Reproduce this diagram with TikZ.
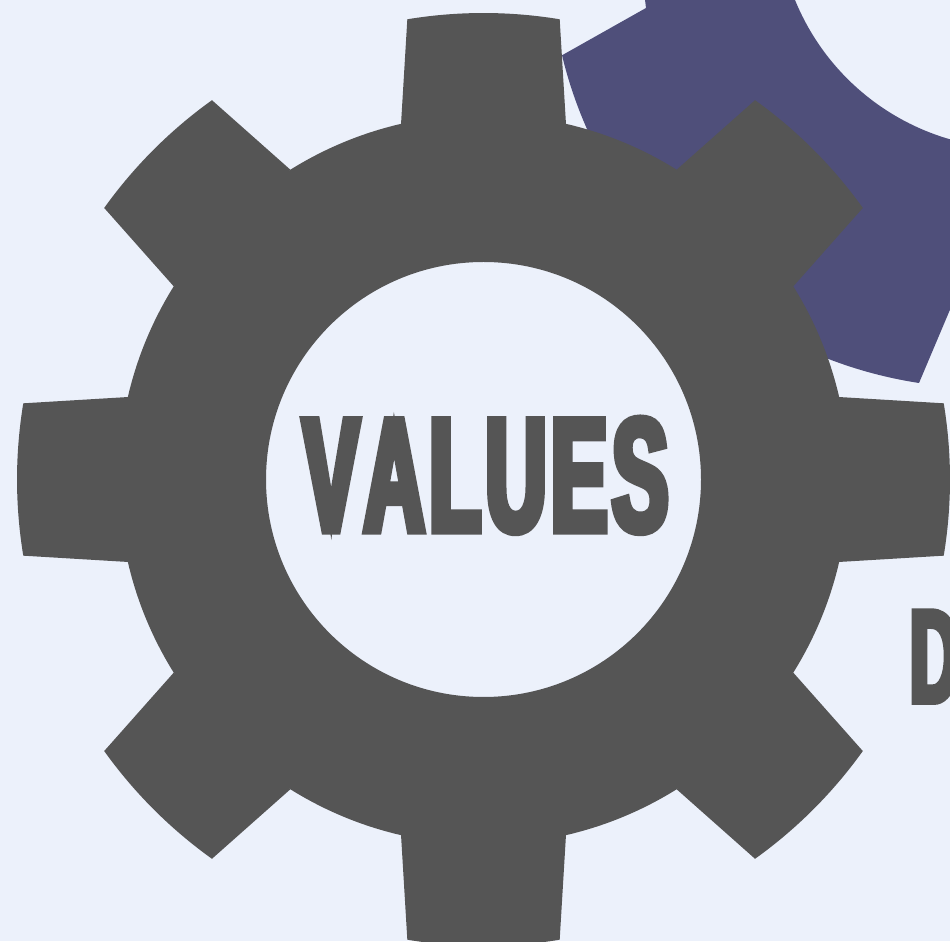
\documentclass[tikz,border=0pt]{standalone}
\usepackage{fontspec}
\newfontfamily\valuesfont[FakeStretch=0.52,FakeBold=4.5,LetterSpace=3,Kerning=Off]{Liberation Sans Bold}
\definecolor{eeffbb}{rgb}{0.925,0.945,0.984}
\definecolor{uuuuuu}{rgb}{0.333,0.333,0.333}
\definecolor{qqzzff}{rgb}{0.31,0.31,0.478}
\tikzset{gearlabel/.style={color=uuuuuu,anchor=base west,inner sep=0pt,outer sep=0pt}}
\begin{document}
\begin{tikzpicture}[x=1.0cm,y=1.0cm]
	\useasboundingbox (0,0) rectangle (19,18.82);
	\clip (0,0) rectangle (19,18.82);
	\fill[color=eeffbb] (0,0) rectangle (19,18.82);
	% gear behind, cut by the page
	\fill[color=qqzzff] (12.88,19) -- (15.9,19) -- (15.9,18.82) arc (202.2:254:4.78) -- (19.2,13.1) -- (18.38,11.16) arc (261.3:193.6:8.7) -- (12.92,18.66) -- cycle;
	% gear in front
	\coordinate (hub) at (9.67,9.23);
	\fill[color=uuuuuu,even odd rule] (hub) circle (7.3) (hub) circle (4.35);
	\foreach \a in {0,45,...,315}
		\fill[color=uuuuuu,shift={(hub)}] (\a-13.06:7.3) -- (\a-9.4:9.33) arc (\a-9.4:\a+9.4:9.33) -- (\a+13.06:7.3) -- cycle;
	\node[gearlabel] (values) at (6.06,8.2) {\valuesfont\fontsize{92}{92}\selectfont VALUES};
	\node[gearlabel] (cutoff) at (18.2,4.78) {\valuesfont\fontsize{75}{75}\selectfont D};
\end{tikzpicture}
\end{document}
